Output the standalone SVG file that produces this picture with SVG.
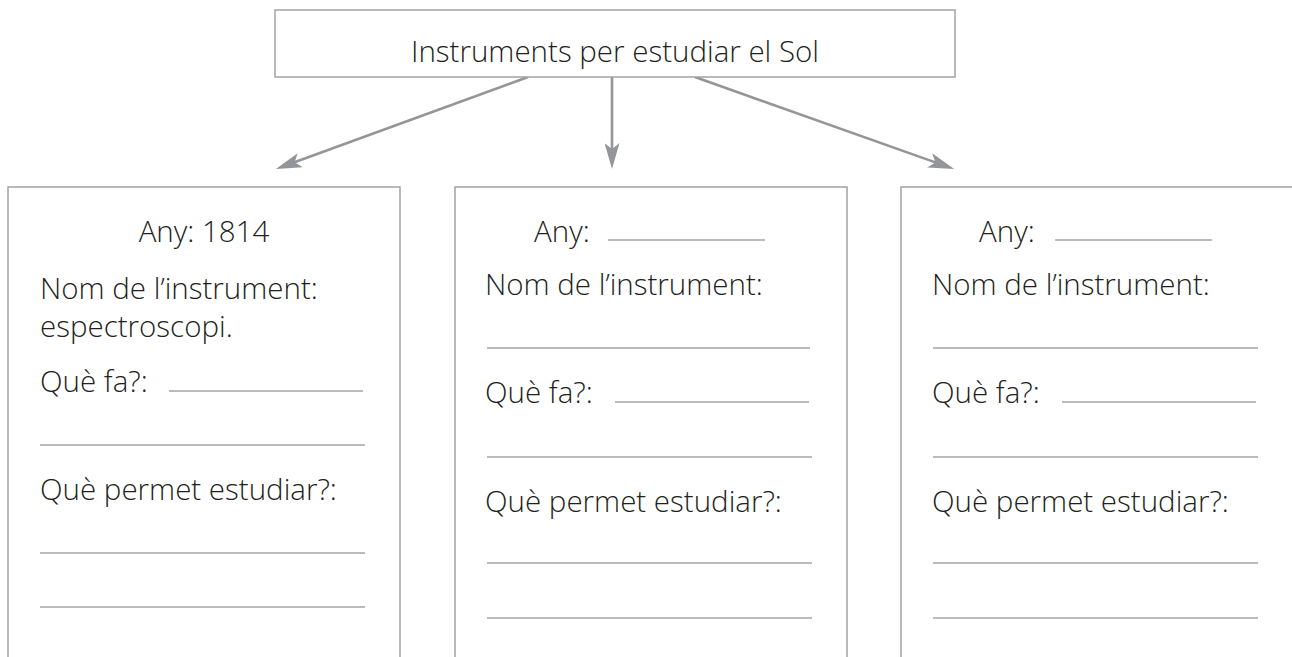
<svg xmlns="http://www.w3.org/2000/svg" width="1292" height="657" viewBox="0 0 1292 657">
  <style>
    .box { fill: #ffffff; stroke: #a3a3a5; stroke-width: 1.5; }
    .txt { font-family: "Open Sans", "Noto Sans", "Liberation Sans", sans-serif; font-size: 29.5px; font-weight: 300; fill: #231f20; }
    .wl { stroke: #a3a4a7; stroke-width: 1.6; fill: none; }
    .conn { stroke: #939598; stroke-width: 2.6; fill: none; }
  </style>
  <defs>
    <marker id="arrow" viewBox="0 0 26 15" refX="12" refY="7.5" markerWidth="26" markerHeight="15" markerUnits="userSpaceOnUse" orient="auto">
      <path d="M0,0 L26,7.5 L0,15 L6,7.5 Z" fill="#939598"/>
    </marker>
  </defs>
  <rect width="1292" height="657" fill="#ffffff"/>

  <g id="connectors">
    <line class="conn" x1="528" y1="77" x2="289" y2="164.3" marker-end="url(#arrow)"/>
    <line class="conn" x1="612" y1="77" x2="612" y2="155" marker-end="url(#arrow)"/>
    <line class="conn" x1="695" y1="77" x2="941" y2="164.4" marker-end="url(#arrow)"/>
  </g>

  <g id="title">
    <rect class="box" x="275" y="10" width="680" height="67"/>
    <text class="txt" x="615" y="62" text-anchor="middle">Instruments per estudiar el Sol</text>
  </g>

  <g id="card1">
    <rect class="box" x="8" y="187" width="392" height="520"/>
    <text class="txt" x="204" y="242" text-anchor="middle">Any: 1814</text>
    <text class="txt" x="40" y="299">Nom de l’instrument:</text>
    <text class="txt" x="40" y="337">espectroscopi.</text>
    <text class="txt" x="40" y="392">Què fa?:</text>
    <line class="wl" x1="169" y1="391" x2="363" y2="391"/>
    <line class="wl" x1="40" y1="445" x2="365" y2="445"/>
    <text class="txt" x="40" y="500">Què permet estudiar?:</text>
    <line class="wl" x1="40" y1="553" x2="365" y2="553"/>
    <line class="wl" x1="40" y1="607" x2="365" y2="607"/>
  </g>

  <g id="card2">
    <rect class="box" x="455" y="187" width="392" height="520"/>
    <text class="txt" x="534" y="242">Any:</text>
    <line class="wl" x1="608" y1="240" x2="765" y2="240"/>
    <text class="txt" x="485" y="295">Nom de l’instrument:</text>
    <line class="wl" x1="487" y1="348" x2="810" y2="348"/>
    <text class="txt" x="485" y="403">Què fa?:</text>
    <line class="wl" x1="615" y1="402" x2="809" y2="402"/>
    <line class="wl" x1="487" y1="457" x2="812" y2="457"/>
    <text class="txt" x="485" y="512">Què permet estudiar?:</text>
    <line class="wl" x1="487" y1="563" x2="812" y2="563"/>
    <line class="wl" x1="487" y1="618" x2="812" y2="618"/>
  </g>

  <g id="card3">
    <rect class="box" x="901" y="187" width="392" height="520"/>
    <text class="txt" x="979" y="242">Any:</text>
    <line class="wl" x1="1055" y1="240" x2="1212" y2="240"/>
    <text class="txt" x="932" y="295">Nom de l’instrument:</text>
    <line class="wl" x1="933" y1="348" x2="1258" y2="348"/>
    <text class="txt" x="932" y="403">Què fa?:</text>
    <line class="wl" x1="1062" y1="402" x2="1256" y2="402"/>
    <line class="wl" x1="933" y1="457" x2="1258" y2="457"/>
    <text class="txt" x="932" y="512">Què permet estudiar?:</text>
    <line class="wl" x1="933" y1="563" x2="1258" y2="563"/>
    <line class="wl" x1="933" y1="618" x2="1258" y2="618"/>
  </g>
</svg>
